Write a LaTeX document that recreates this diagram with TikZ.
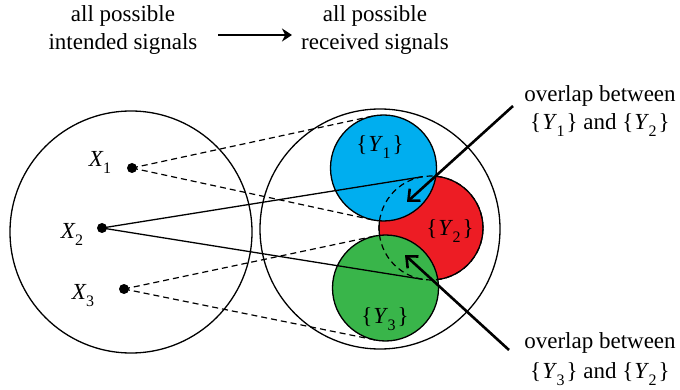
\documentclass[tikz,border=0pt]{standalone}
\usepackage{fontspec}
\setmainfont{Liberation Serif}
\usetikzlibrary{calc,arrows.meta}
\definecolor{cyanY}{HTML}{00AEEF}
\definecolor{redY}{HTML}{ED1C24}
\definecolor{greenY}{HTML}{39B54A}
\newcommand\vsub[2]{\textit{#1}\kern-0.5pt\raisebox{-7pt}{\fontsize{16}{16}\selectfont #2}}
\newcommand\bset[1]{\{\kern1pt\vsub{Y}{#1}\kern2pt\}}
\begin{document}
\begin{tikzpicture}[x=1pt,y=-1pt,
  big/.style={circle,draw,line width=1.3pt,inner sep=0pt,outer sep=0pt,minimum size=#1},
  sub/.style={circle,draw,line width=1.3pt,inner sep=0pt,outer sep=0pt,minimum size=#1},
  lbl/.style={font=\fontsize{23}{28}\selectfont,inner sep=0pt,anchor=base},
  dot/.style={circle,fill,inner sep=0pt,minimum size=10pt},
  dsh/.style={line width=1.2pt,dash pattern=on 6pt off 4pt},
  sol/.style={line width=1.3pt},
  pointer/.style={line width=2.6pt,-{Straight Barb[length=9pt,width=16pt]}},
  flow/.style={line width=2.6pt,-{Stealth[length=10pt,width=13pt]}}]
\useasboundingbox (0,0) rectangle (680,390);
% big circles
\node[big=242pt] (L) at (131,232) {};
\node[big=240pt] (R) at (380,229) {};
% coloured sets
\node[sub=104pt,fill=redY] (Y2c) at (431,228) {};
\node[sub=106pt,fill=cyanY] (Y1c) at (383.5,168) {};
\node[sub=106pt,fill=greenY] (Y3c) at (385.5,288) {};
\draw[dsh] (Y2c.center) circle[radius=52pt];
% points
\node[dot] (X1) at (132,168) {};
\node[dot] (X2) at (102,228) {};
\node[dot] (X3) at (124,289) {};
% tangent connectors
\draw[dsh] (X1.center) -- (tangent cs:node=Y1c,point={(X1.center)},solution=1);
\draw[dsh] (X1.center) -- (tangent cs:node=Y1c,point={(X1.center)},solution=2);
\draw[dsh] (X3.center) -- (tangent cs:node=Y3c,point={(X3.center)},solution=1);
\draw[dsh] (X3.center) -- (tangent cs:node=Y3c,point={(X3.center)},solution=2);
\draw[sol] (X2.center) -- (tangent cs:node=Y2c,point={(X2.center)},solution=1);
\draw[sol] (X2.center) -- (tangent cs:node=Y2c,point={(X2.center)},solution=2);
% point labels
\node[lbl] (X1l) at (100,167) {\vsub{X}{1}};
\node[lbl] (X2l) at (72,238) {\vsub{X}{2}};
\node[lbl] (X3l) at (83,299) {\vsub{X}{3}};
\node[lbl] (Y1l) at (380,152) {\bset{1}};
\node[lbl] (Y2l) at (450,236) {\bset{2}};
\node[lbl] (Y3l) at (385,323) {\bset{3}};
% top titles
\node[lbl] (i1) at (123,22) {all possible};
\node[lbl] (i2) at (123,50) {intended signals};
\node[lbl] (r1) at (375,22) {all possible};
\node[lbl] (r2) at (375,50) {received signals};
\coordinate (a1) at (218,35);
\coordinate (a2) at (292,35);
\draw[flow] (a1) -- (a2);
% overlap labels
\node[lbl] (o1) at (600,102) {overlap between};
\node[lbl] (o1b) at (600,130) {\bset{1} and \bset{2}};
\node[lbl] (o2) at (600,348) {overlap between};
\node[lbl] (o2b) at (600,378) {\bset{3} and \bset{2}};
\coordinate (p1s) at (513,106);
\coordinate (p1e) at (407,202);
\coordinate (p2s) at (509,350);
\coordinate (p2e) at (405,255);
\draw[pointer] (p1s) -- (p1e);
\draw[pointer] (p2s) -- (p2e);
\end{tikzpicture}
\end{document}
